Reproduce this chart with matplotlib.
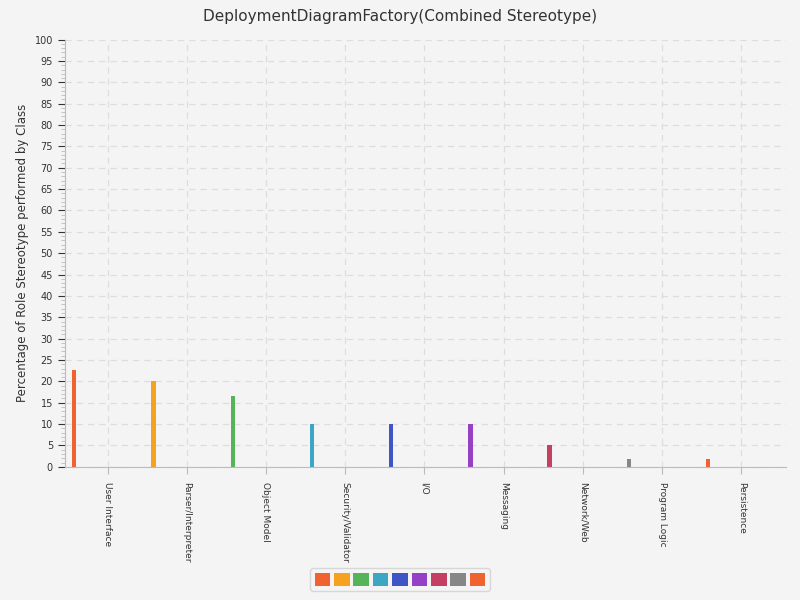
import matplotlib.pyplot as plt
import numpy as np
from matplotlib.patches import Patch
from matplotlib.ticker import MultipleLocator

categories = ["User Interface", "Parser/Interpreter", "Object Model", "Security/Validator",
              "I/O", "Messaging", "Network/Web", "Program Logic", "Persistence"]
values = [22.7, 20.0, 16.6, 10.0, 10.0, 10.0, 5.0, 1.8, 1.8]
colors = ["#f0622f", "#f5a31f", "#55b359", "#3ca6c4", "#4055c5", "#9640c6",
          "#c53f62", "#868686", "#f0622f"]

fig = plt.figure(figsize=(8, 6), dpi=100, facecolor="#f4f4f4")
ax = fig.add_axes([0.081, 0.222, 0.901, 0.712], facecolor="#f4f4f4")

x = np.arange(len(categories))
ax.bar(x - 0.42, values, width=0.055, color=colors)

ax.set_xlim(-0.54, 8.56)
ax.set_ylim(0, 100)
ax.set_xticks(x)
ax.set_xticklabels(categories, rotation=-90, fontsize=6.5, color="#333333")
ax.yaxis.set_major_locator(MultipleLocator(5))
ax.yaxis.set_minor_locator(MultipleLocator(1))
ax.tick_params(axis="y", labelsize=7, colors="#333333", length=5)
ax.tick_params(axis="y", which="minor", length=3, color="#bbbbbb")
ax.tick_params(axis="x", length=5, color="#bbbbbb", pad=6)
ax.grid(True, linestyle=(0, (5, 4)), color="#dddddd", linewidth=0.9)
ax.set_axisbelow(True)
for s in ["top", "right"]:
    ax.spines[s].set_visible(False)
for s in ["left", "bottom"]:
    ax.spines[s].set_color("#bbbbbb")

ax.set_ylabel("Percentage of Role Stereotype performed by Class", fontsize=8.5, color="#333333")
fig.suptitle("DeploymentDiagramFactory(Combined Stereotype)", fontsize=11, y=0.985, color="#333333")

handles = [Patch(facecolor=c) for c in colors]
fig.legend(handles, [""] * len(colors), loc="lower center", ncol=len(colors),
           bbox_to_anchor=(0.5, 0.005), handlelength=1.25, handleheight=1.25,
           handletextpad=0, columnspacing=0.3, frameon=True, fontsize=9,
           borderpad=0.35, facecolor="#f4f4f4", edgecolor="#d0d0d0")

fig.savefig("out.png", dpi=100, facecolor=fig.get_facecolor())
